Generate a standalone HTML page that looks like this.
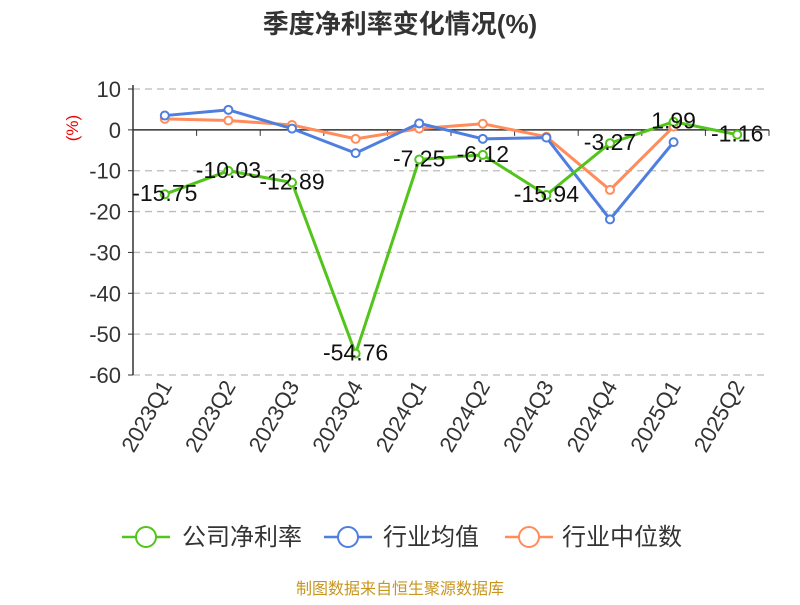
<!DOCTYPE html>
<html><head><meta charset="utf-8"><style>
body{margin:0;background:#fff;font-family:"Liberation Sans","Noto Sans CJK SC",sans-serif}
svg text{font-family:"Liberation Sans","Noto Sans CJK SC",sans-serif}
</style></head><body>
<svg id="c" width="800" height="600">
<text x="400" y="33" text-anchor="middle" font-size="26" font-weight="bold" fill="#333">季度净利率变化情况(%)</text>
<text x="78" y="128" transform="rotate(-90 78 128)" text-anchor="middle" font-size="17" fill="#e00">(%)</text>
<g id="grid"></g><g id="series"></g>
<g>
<g><line x1="122" y1="537" x2="170" y2="537" stroke="#52c41a" stroke-width="2.5"/><circle cx="146" cy="537" r="10" fill="#fff" stroke="#52c41a" stroke-width="2"/><text x="182" y="545" font-size="24" fill="#333">公司净利率</text></g>
<g><line x1="324" y1="537" x2="372" y2="537" stroke="#4e7fe0" stroke-width="2.5"/><circle cx="348" cy="537" r="10" fill="#fff" stroke="#4e7fe0" stroke-width="2"/><text x="383" y="545" font-size="24" fill="#333">行业均值</text></g>
<g><line x1="505" y1="537" x2="553" y2="537" stroke="#ff8c5a" stroke-width="2.5"/><circle cx="529" cy="537" r="10" fill="#fff" stroke="#ff8c5a" stroke-width="2"/><text x="562" y="545" font-size="24" fill="#333">行业中位数</text></g>
</g>
<text x="400" y="594" text-anchor="middle" font-size="16" fill="#c8961e">制图数据来自恒生聚源数据库</text>
</svg>
<script>
const categories=["2023Q1","2023Q2","2023Q3","2023Q4","2024Q1","2024Q2","2024Q3","2024Q4","2025Q1","2025Q2"];
const company=[-15.75,-10.03,-12.89,-54.76,-7.25,-6.12,-15.94,-3.27,1.99,-1.16];
const industryAvg=[3.5,4.9,0.3,-5.7,1.6,-2.2,-1.9,-21.9,-3.0,null];
const industryMedian=[2.7,2.3,1.2,-2.2,0.3,1.5,-1.7,-14.7,0.8,null];
const yTicks=[10,0,-10,-20,-30,-40,-50,-60];
const NS="http://www.w3.org/2000/svg";
const X0=133,X1=769,Y0=89,Y1=375,VMAX=10,VMIN=-60;
const band=(X1-X0)/categories.length;
const xs=i=>X0+band*(i+0.5);
const ys=v=>Y0+(VMAX-v)/(VMAX-VMIN)*(Y1-Y0);
function mk(t,a,p){const e=document.createElementNS(NS,t);for(const k in a)e.setAttribute(k,a[k]);p.appendChild(e);return e;}
const g=document.getElementById('grid'),s=document.getElementById('series');
yTicks.forEach(v=>{
 if(v!==0){const l=mk('line',{x1:X0,x2:X1,y1:ys(v),y2:ys(v),stroke:'#bbb','stroke-dasharray':'7,5','stroke-width':1.3},g);
 
 }
 mk('line',{x1:X0-5,x2:X0,y1:ys(v),y2:ys(v),stroke:'#333'},g);
 const t=mk('text',{x:X0-12,y:ys(v)+8,'text-anchor':'end','font-size':22,fill:'#333'},g);t.textContent=v;
 
 
});
mk('line',{x1:X0,x2:X0,y1:Y0-4,y2:Y1,stroke:'#333','stroke-width':1.5},g);
const za=mk('line',{x1:X0,x2:X1,y1:ys(0),y2:ys(0),stroke:'#333','stroke-width':1.5},g);


categories.forEach((c,i)=>{
 const tx=X0+band*(i+1);
 mk('line',{x1:tx,x2:tx,y1:ys(0),y2:ys(0)+6,stroke:'#333'},g);
 const x=xs(i)+8,y=386;
 const t=mk('text',{x:x,y:y,'text-anchor':'end','font-size':22,fill:'#333',transform:`rotate(-60 ${x} ${y})`},g);t.textContent=c;
 
 
});
function line(vals,color,name,labels){
 const pts=[];vals.forEach((v,i)=>{if(v!==null)pts.push([xs(i),ys(v),v]);});
 const p=mk('polyline',{points:pts.map(q=>q[0]+','+q[1]).join(' '),fill:'none',stroke:color,'stroke-width':3},s);
 
 
 pts.forEach(q=>{const c=mk('circle',{cx:q[0],cy:q[1],r:4,fill:'#fff',stroke:color,'stroke-width':2},s);
 
 });
 if(labels)pts.forEach(q=>{const t=mk('text',{x:q[0],y:q[1]+7,'text-anchor':'middle','font-size':23,fill:'#111'},s);
 t.textContent=q[2].toFixed(2);
 
 });
}
line(industryMedian,'#ff8c5a','industry-median',false);
line(industryAvg,'#4e7fe0','industry-avg',false);
line(company,'#52c41a','company',true);
</script>
</body></html>
